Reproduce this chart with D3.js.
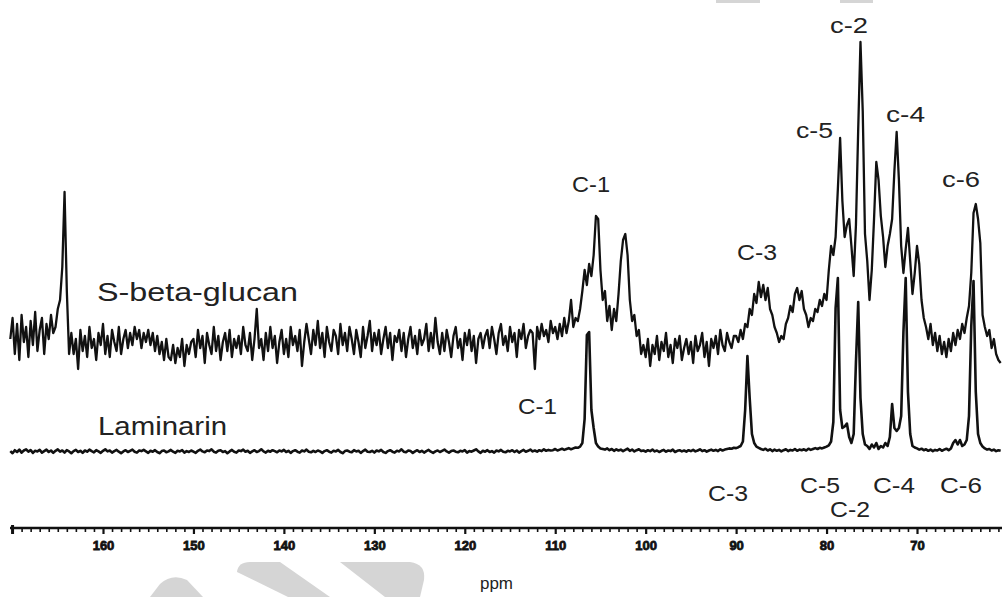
<!DOCTYPE html>
<html><head><meta charset="utf-8">
<script src="https://cdn.jsdelivr.net/npm/d3@7/dist/d3.min.js"></script>
<style>
html,body{margin:0;padding:0;background:#fff;}
svg{display:block;}
</style>
</head><body>
<svg id="chart" width="1002" height="597"></svg>
<script>
// ---- Data: chemical shift grid (ppm) and intensities ----
const ppmStart = 170.25;   // first sample (ppm)
const ppmStep = 0.25;      // spacing between samples (ppm, decreasing)
const majorTicks = [160, 150, 140, 130, 120, 110, 100, 90, 80, 70];

// S-beta-glucan trace (arbitrary intensity units, baseline ~0)
const glucanA = [ // 170.25 -> 137.75 ppm
  2, 9, -3, 7, -5, 10, 1, 6, -4, 8, 0, 11, -2, 5, 9, -3, 7, 2, 10, 4,
  6, 12, 15, 26, 51, 18, -3,
  4, -3, 2, -8, 5, -2, 3, -4, 6, -1, 2, -5, 4, 0,
  7, -3, 3, -4, 5, 1, -2, 6, -3, 2, 5, -1, 4, 0, 6, 2, 5, -1, 4, 1,
  5, 0, 4, -2, 3, -3, 1, -5, 2, -4,
  -5, 0, -6, -1, -4, 2, -7, 0, -3, 1,
  2, -4, 5, -1, 3, -6, 4, 0, -3, 6, -2, 3, -5, 1, 4, -2, 5, -4, 2, -1,
  3, -3, 6, 0, -2, 4, -5, 2, 12, -1,
  2, -5, 4, -2, 6, -1, 3, -6, 1, 5, -3, 2, -4, 6, 0, 3, -2, 5, -7, 1
];
const glucanB = [ // 137.5 -> 107.75 ppm
  7, 2, -3, 5, 0, 8, -1, 4, -4, 6, 1, -2, 5, 3, -3, 7, 0, 4, -2, 6,
  2, -3, 5, 1, -4, 6, -1, 3, 8, -2, 4, 0, 5, -3, 2, 6, -1, 4, -5, 3,
  1, 5, -2, 4, -4, 2, 6, -1, 3, -3, 5, 0, 2, 7, -2, 4, -1, 9, 1, -3,
  4, -2, 5, 1, -4, 3, 6, -1, 2, -5, 4, 0, 5, -2, 3, -6, 2, 4, -1, 3,
  5, -1, 6, 2, -3, 4, 7, 0, 3, -2, 6, 1, 4, -4, 5, 2, 7, -1, 3, 5,
  4, -8, 6, 2, 7, 3, 5, 1, 8, 4, 6, 2, 7, 3, 9, 4, 8, 15, 6, 9
];
const glucanC = [ // 107.5 -> 80.25 ppm
  8, 12, 18, 25, 20, 27, 23, 30, 43, 42, 25, 15, 18, 8, 13, 5, 12, 8, 17, 28,
  35, 37, 30, 15, 8, 10, 3, 5, -3, 0,
  -4, 2, -7, 0, -3, 3, -5, 1, -2, 4, -4, 0, -6, 2, -1, 3, -5, -1, 2, -3,
  1, -6, 3, -2, 0, 4, -4, 1, -7, 2, -1, 3, -3, 5, 0, -2, 4, 1, -1, 3,
  3, 1, 5, 2, 7, 6, 12, 10, 17, 14, 21, 16, 20, 15, 19, 12, 10, 6, 4, 1,
  3, 2, 7, 9, 13, 11, 17, 19, 15, 18, 12, 10, 6, 9, 8, 12, 11, 15, 13, 17
];
const glucanD = [ // 80.0 -> 60.75 ppm
  15, 25, 33, 30, 36, 52, 69, 48, 36, 40, 42, 33, 23, 40, 72, 101, 78, 37, 28, 15,
  25, 42, 61, 55, 43, 36, 26, 33, 37, 42, 58, 71, 55, 33, 24, 32, 39, 28, 17, 24,
  33, 27, 15, 9,
  6, 2, 7, 0, 4, -2, 3, -3, 1, -4, 2, -2, 4, 0, 5, 2, 7, 4, 9, 13,
  24, 44, 47, 42, 34, 10, 6, 3, 5, -1, 2, -3, -5, -6
];

// Laminarin trace (arbitrary intensity units, baseline ~0)
const laminarinA = [ // 170.25 -> 135.5 ppm
  0.3, -0.4, 0.6, 0, 0.8, -0.2, 0.5, 0.9, 0.1, 0.6, -0.3, 0.4, 0.2, 0.7, -0.2, 0.3, 0.8, 0, 0.5, -0.3,
  0.4, 0.9, 0.1, 0.5, -0.2, 0.6, 0.2, -0.4, 0.3, 0.7, 0, 0.4, -0.3, 0.5, 0.1, 0.8, 0.3, -0.1, 0.6, 0.2,
  -0.3, 0.4, 0.9, 0.2, 0.5, -0.2, 0.3, 0.7, 0.1, -0.4, 0.2, 0.6, 0, 0.4, 0.8, 0.1, -0.2, 0.5, 0.3, 0.7,
  0.2, -0.3, 0.4, 0.1, 0.6, 0, -0.4, 0.3, 0.5, -0.1, 0.2, 0.7, 0.1, -0.3, 0.4, 0.2, 0.6, -0.2, 0.3, 0,
  0.5, 0.1, -0.3, 0.4, 0.8, 0.2, -0.1, 0.5, 0.3, 0.9, 0.1, -0.2, 0.4, 0.6, 0, 0.3, -0.4, 0.2, 0.7, 0.1,
  -0.2, 0.5, 0.3, 0.8, 0.1, 0.4, -0.3, 0.2, 0.6, 0, 0.3, 0.9, 0.2, -0.2, 0.4, 0.1, 0.6, 0.3, -0.1, 0.5,
  0.2, 0.7, 0, 0.4, -0.3, 0.3, 0.6, 0.1, -0.2, 0.5, 0.2, 0.8, 0.1, -0.1, 0.4, 0, 0.5, 0.2, -0.3, 0.3
];
const laminarinB = [ // 135.25 -> 107.5 ppm
  0.6, 0.1, -0.2, 0.4, 0.2, 0.7, 0, -0.4, 0.3, 0.5, 0.1, -0.1, 0.6, 0.2, 0.4, -0.3, 0.3, 0.8, 0.1, 0,
  0.4, -0.2, 0.5, 0.2, 0.7, 0, -0.3, 0.3, 0.6, 0.1, -0.2, 0.4, 0.2, 0.9, 0.1, -0.1, 0.5, 0.3, -0.3, 0.2,
  0.6, 0, 0.4, -0.2, 0.3, 0.7, 0.1, -0.3, 0.2, 0.5, 0, 0.4, 0.8, 0.2, -0.2, 0.3, 0.5, 0.1, -0.1, 0.4,
  0.2, 0.6, -0.2, 0.3, 0.1, 0.5, 0.9, 0.2, -0.3, 0.4, 0.1, 0.6, 0, 0.3, -0.2, 0.5, 0.2, 0.7, 0.1, -0.1,
  0.4, 0.2, 0.6, 0, 0.5, -0.2, 0.3, 0.7, 0.1, 0.4, 0.8, 0.2, 0.5, 0.1, 0.6, 0.3, 0.9, 0.4, 0.7, 0.5,
  0.6, 1, 0.5, 0.8, 1.1, 0.7, 1, 1.3, 0.9, 1.2, 1.5, 1.4
];
const laminarinC = [ // 107.25 -> 80.5 ppm
  1.8, 3, 11, 39, 40, 14, 8, 3, 1.8, 1.2,
  1, 0.8, 1.2, 0.6, 1, 0.4, 0.9, 0.5, 0.8, 0.3, 0.7, 1.1, 0.4, 0.8, 0.2, 0.6, 0.9, 0.3,
  0.5, 0.1, 0.6, 0.3, 0.8, 0.2, 0.5, 0, 0.4, 0.7, 0.1, 0.5, 0.3, 0.8, 0, 0.4, 0.6, 0.2, 0.5, 0.1,
  0.6, 0.3, 0.7, 0.2, 0.5, 0.9, 0.3, 0.6, 0.1, 0.5, 0.8, 0.4, 0.7, 0.3, 0.9, 0.5, 0.8, 1, 1.2, 1.1,
  1.4, 1.3, 1.6, 2, 3.5, 14, 32, 18, 6, 3, 1.8, 1.4,
  1, 0.7, 1.1, 0.5, 0.9, 0.3, 0.8, 0.4, 0.7, 0.2, 0.6, 0.9, 0.3, 0.7, 0.5, 1, 0.4, 0.8, 0.6, 0.9,
  0.5, 1.1, 0.7, 1, 1.3, 1, 1.4, 1.2
];
const laminarinD = [ // 80.25 -> 60.75 ppm
  1.5, 1.8, 2.2, 3.5,
  10, 48, 58, 14, 8, 8.5, 9.5, 5, 3, 6, 30, 50, 18, 6, 2.5,
  2, 1, 2.5, 1.5, 3, 1, 2, 1.5, 3, 2, 5, 16, 8, 7, 8, 12, 40, 58, 20, 6, 2, 1.5,
  1.2, 0.8, 1.1, 0.6, 0.9, 0.4, 0.8, 0.3, 0.7, 0.5, 1, 0.4, 0.8, 1.1, 0.6, 1.2, 3, 4, 2.5, 4, 2, 2.5,
  4, 12, 42, 57, 20, 6, 3, 1.8, 1.2, 0.8, 1, 0.5, 0.8, 0.3, 0.6, 0.4
];

const seriesNames = ["S-beta-glucan", "Laminarin"];
const upperPeakLabels = ["C-1", "C-3", "c-5", "c-2", "c-4", "c-6"];
const lowerPeakLabels = ["C-1", "C-3", "C-5", "C-2", "C-4", "C-6"];
const axisTitle = "ppm";

// ---- Build ----
const glucan = [].concat(glucanA, glucanB, glucanC, glucanD);
const laminarin = [].concat(laminarinA, laminarinB, laminarinC, laminarinD);
const ppmAt = i => ppmStart - ppmStep * i;

const svg = d3.select("#chart");
const W = 1002, H = 597;
svg.append("rect").attr("width", W).attr("height", H).attr("fill", "#fff");

// faint background marks seen in the scan
const wm = svg.append("g").attr("fill", "#d5d5d5");
wm.append("path").attr("d", "M150,597 L160,584 Q172,573 187,580 L203,597 Z");
wm.append("path").attr("d", "M237,572 Q238,562 250,562 L280,562 L330,597 L288,597 Z");
wm.append("path").attr("d", "M340,562 L410,562 Q426,564 424,580 L420,597 L385,597 Z");
wm.append("rect").attr("x", 716).attr("y", 0).attr("width", 44).attr("height", 3);
wm.append("rect").attr("x", 840).attr("y", 0).attr("width", 33).attr("height", 3);

const x = d3.scaleLinear().domain([160, 70]).range([103, 917]);
const yS = d3.scaleLinear().domain([0, 100]).range([345, 45]);
const yL = d3.scaleLinear().domain([0, 100]).range([452, 152]);

const lineS = d3.line().x((d, i) => x(ppmAt(i))).y(d => yS(d));
const lineL = d3.line().x((d, i) => x(ppmAt(i))).y(d => yL(d));

svg.append("path").datum(laminarin).attr("d", lineL)
  .attr("fill", "none").attr("stroke", "#111").attr("stroke-width", 2.6)
  .attr("stroke-linejoin", "round");
svg.append("path").datum(glucan).attr("d", lineS)
  .attr("fill", "none").attr("stroke", "#111").attr("stroke-width", 2.3)
  .attr("stroke-linejoin", "round");

// ---- Axis ----
const axisY = 528;
const xFull = x.copy().domain([x.invert(10), x.invert(1002)]).range([10, 1002]);
const minor = d3.range(61, 171).filter(v => v % 10 !== 0);
const gMinor = svg.append("g").attr("transform", `translate(0,${axisY})`)
  .call(d3.axisBottom(xFull).tickValues(minor).tickSize(4).tickSizeOuter(0).tickFormat(""));
gMinor.select(".domain").remove();
gMinor.selectAll("line").attr("stroke", "#111").attr("stroke-width", 1.6);

const gAxis = svg.append("g").attr("transform", `translate(0,${axisY})`)
  .call(d3.axisBottom(xFull).tickValues(majorTicks).tickSize(6).tickSizeOuter(0)
    .tickPadding(7).tickFormat(d3.format("d")));
gAxis.select(".domain").attr("stroke", "#111").attr("stroke-width", 2.4)
  .attr("d", "M10,0H1002");
gAxis.selectAll("line").attr("stroke", "#111").attr("stroke-width", 2.2);
gAxis.selectAll("text").attr("font-family", "'Liberation Sans', Arial, sans-serif")
  .attr("font-size", 13).attr("font-weight", "bold").attr("fill", "#111")
  .attr("stroke", "#111").attr("stroke-width", 0.8);
svg.append("line").attr("x1", x(170)).attr("x2", x(170)).attr("y1", axisY - 3).attr("y2", axisY + 6)
  .attr("stroke", "#111").attr("stroke-width", 3);

// ---- Text ----
const font = "'Liberation Sans', Arial, Helvetica, sans-serif";
function label(t, cx, y, size, len) {
  svg.append("text").text(t).attr("x", cx).attr("y", y)
    .attr("text-anchor", "middle").attr("font-family", font)
    .attr("font-size", size).attr("fill", "#222")
    .attr("textLength", len).attr("lengthAdjust", "spacingAndGlyphs");
}
label(seriesNames[0], 197.5, 301, 26, 201);
label(seriesNames[1], 162.5, 435, 26, 129);

const upperPos = [[591, 192, 38], [757, 260, 40], [814.5, 138, 37], [849, 33, 38], [905.5, 122, 39], [961, 187, 38]];
upperPeakLabels.forEach((t, i) => label(t, upperPos[i][0], upperPos[i][1], 22, upperPos[i][2]));
const lowerPos = [[537.5, 414, 39], [728, 501, 40], [820, 493, 40], [850, 517, 40], [894, 493, 42], [961, 493, 42]];
lowerPeakLabels.forEach((t, i) => label(t, lowerPos[i][0], lowerPos[i][1], 22, lowerPos[i][2]));

label(axisTitle, 496.5, 589, 17, 33);
</script>
</body></html>
